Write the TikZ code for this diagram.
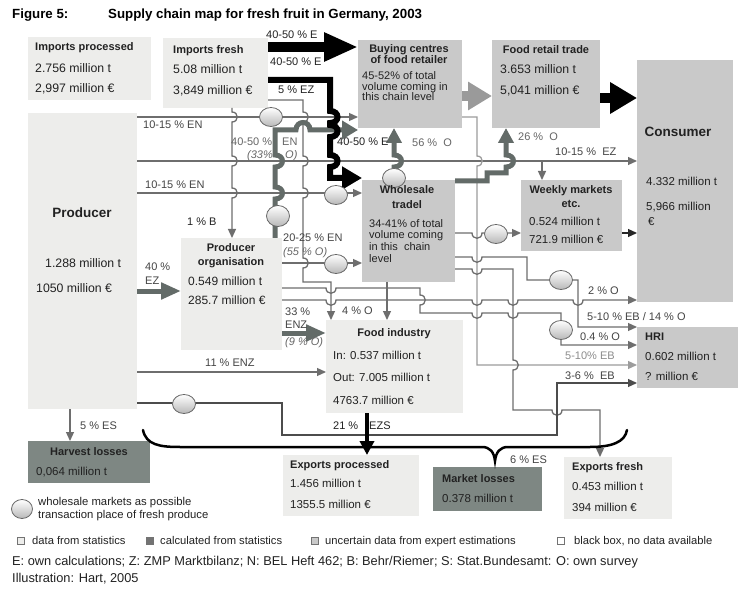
\documentclass[tikz,border=0pt]{standalone}
\usepackage{fontspec}
\setmainfont{Liberation Sans}
\usetikzlibrary{arrows.meta,shapes.geometric}
\definecolor{boxlight}{HTML}{EDEDEB}
\definecolor{boxmid}{HTML}{C9C9C9}
\definecolor{boxdark}{HTML}{7E8783}
\definecolor{linegray}{HTML}{6E6E6E}
\definecolor{thickgray}{HTML}{636B68}
\definecolor{lightarrow}{HTML}{9A9A9A}
\definecolor{txt}{HTML}{222222}
\definecolor{labgray}{HTML}{444444}
\definecolor{labital}{HTML}{666666}
\definecolor{paleline}{HTML}{9C9C9C}
% bumps (y axis points down)
\newcommand\bumpv[2]{-- (#1,#2-5) .. controls +(7,0) and +(7,0) .. (#1,#2+5)}
\newcommand\bumpvd[2]{-- (#1,#2-6) .. controls +(10,0) and +(10,0) .. (#1,#2+6)}
\newcommand\bumpvu[2]{-- (#1,#2+6) .. controls +(10,0) and +(10,0) .. (#1,#2-6)}
\newcommand\dip[2]{-- (#1-5,#2) .. controls +(0,7) and +(0,7) .. (#1+5,#2)}
\newcommand\hump[2]{-- (#1-7,#2) .. controls +(0,-10) and +(0,-10) .. (#1+7,#2)}
\begin{document}
\begin{tikzpicture}[x=1pt,y=-1pt,
  lbox/.style={fill=boxlight, inner sep=0, outer sep=0, anchor=north west},
  mbox/.style={fill=boxmid, inner sep=0, outer sep=0, anchor=north west},
  dbox/.style={fill=boxdark, inner sep=0, outer sep=0, anchor=north west},
  cline/.style={draw=linegray, line width=1.3pt},
  arr/.style={-{Triangle[length=9pt,width=8pt]}},
  thg/.style={draw=thickgray, line width=5pt},
  ell/.style={ellipse, draw=black!60, line width=0.8pt, minimum width=23pt, minimum height=19pt, inner sep=0pt, top color=white, bottom color=black!28},
  ttl/.style={font=\bfseries\fontsize{13.3}{15}\selectfont, inner sep=0, anchor=mid west},
  hd/.style={font=\bfseries\fontsize{11}{12}\selectfont, text=txt, inner sep=0, anchor=mid west},
  hdc/.style={hd, anchor=mid},
  big/.style={font=\bfseries\fontsize{13.5}{15}\selectfont, text=txt, inner sep=0, anchor=mid},
  val/.style={font=\fontsize{11.5}{12}\selectfont, text=txt, inner sep=0, anchor=mid west},
  valb/.style={val, font=\fontsize{12.3}{13}\selectfont},
  sm/.style={font=\fontsize{11}{12}\selectfont, text=txt, inner sep=0, anchor=mid west},
  lab/.style={font=\fontsize{11}{12}\selectfont, text=labgray, inner sep=0, anchor=mid west},
  labd/.style={lab, text=txt},
  labi/.style={font=\itshape\fontsize{11}{12}\selectfont, text=labital, inner sep=0, anchor=mid west},
  labg/.style={lab, text=labital},
  labp/.style={lab, text=black!45},
  leg/.style={font=\fontsize{11.3}{12}\selectfont, text=txt, inner sep=0, anchor=mid west},
  legs/.style={font=\fontsize{11.2}{12}\selectfont, text=txt, inner sep=0, anchor=mid west},
  foot/.style={font=\fontsize{12.8}{14}\selectfont, text=txt, inner sep=0, anchor=mid west},
  sq/.style={draw=black!55, line width=0.8pt, minimum size=7pt, inner sep=0}
]
\useasboundingbox (0,0) rectangle (756,607);
\fill[white] (0,0) rectangle (756,607);

% ---------- boxes ----------
\node[lbox, minimum width=123pt, minimum height=63pt] (ipr) at (28,37) {};
\node[lbox, minimum width=105pt, minimum height=70pt] (ifr) at (163,38) {};
\node[mbox, minimum width=104pt, minimum height=88pt] (bc) at (358,40) {};
\node[mbox, minimum width=108pt, minimum height=88pt] (frt) at (492,40) {};
\node[mbox, minimum width=96pt, minimum height=242pt] (con) at (637,60) {};
\node[lbox, minimum width=109pt, minimum height=296pt] (pro) at (28,113) {};
\node[mbox, minimum width=93pt, minimum height=102pt] (wh) at (362,180) {};
\node[mbox, minimum width=101pt, minimum height=71pt] (wk) at (521,180) {};
\node[lbox, minimum width=101pt, minimum height=112pt] (po) at (181,238) {};
\node[lbox, minimum width=137pt, minimum height=93pt] (fi) at (326,320) {};
\node[mbox, minimum width=101pt, minimum height=61pt] (hri) at (637,327) {};
\node[dbox, minimum width=122pt, minimum height=42pt] (hl) at (28,441) {};
\node[lbox, minimum width=136pt, minimum height=61pt] (ep) at (283,455) {};
\node[dbox, minimum width=109pt, minimum height=44pt] (ml) at (433,467) {};
\node[lbox, minimum width=108pt, minimum height=62pt] (ef) at (564,457) {};

% ---------- thin connectors ----------
\draw[cline, arr] (pro.east |- 0,117) -- (bc.west |- 0,117);
\draw[cline, arr] (pro.east |- 0,161) -- (con.west |- 0,161);
\draw[cline, arr] (542,161) -- (wk.north -| 542,0);
\draw[cline, arr] (pro.east |- 0,193) -- (wh.west |- 0,193);
\draw[cline, arr] (ifr.south -| 232,0) \bumpv{232}{117} \bumpv{232}{161} \bumpv{232}{193} -- (po.north -| 232,0);
\draw[cline, arr] (ifr.east |- 0,100) -- (303,100) \bumpv{303}{117} \bumpv{303}{161} \bumpv{303}{193} \bumpv{303}{263} -- (303,282) -- (331,282) -- (fi.north -| 331,0);
\draw[cline, arr] (po.east |- 0,263) -- (wh.west |- 0,263);
\draw[cline, arr, draw=paleline] (bc.east |- 0,117) -- (477,117) \bumpv{477}{161} -- (477,365) -- (hri.west |- 0,365);
\draw[cline, arr] (wh.east |- 0,233) \dip{477}{233} -- (wk.west |- 0,233);
\draw[cline, arr, draw=black!85] (wk.east |- 0,233) -- (con.west |- 0,233);
\draw[cline, arr] (wh.south -| 387,0) -- (fi.north -| 387,0);
\draw[cline, arr] (wh.east |- 0,257) \dip{477}{257} -- (527,257) -- (527,280) -- (578,280) -- (578,327) -- (hri.west |- 0,327);
\draw[cline, arr] (wh.east |- 0,269) \dip{477}{269} -- (513,269) \bumpv{513}{365} -- (513,410) \dip{557}{410} -- (600,410) -- (ef.north -| 600,0);
\draw[cline, arr] (po.east |- 0,288) \dip{331}{288} -- (420,288) \bumpv{420}{300} -- (420,313) \dip{477}{313} \dip{513}{313} -- (561,313) -- (561,345) -- (hri.west |- 0,345);
\draw[cline, arr] (po.east |- 0,300) \dip{331}{300} \dip{477}{300} \dip{513}{300} \dip{578}{300} -- (con.west |- 0,300);
\draw[cline, arr] (pro.east |- 0,372) -- (fi.west |- 0,372);
\draw[cline, arr, draw=black!70] (pro.east |- 0,403) -- (282,403) -- (282,435) -- (557,435) -- (557,383) -- (hri.west |- 0,383);
\draw[cline, arr] (pro.south -| 70,0) -- (hl.north -| 70,0);

% ---------- thick connectors ----------
\draw[thg, -{Triangle[length=16pt,width=18pt]}] (po.north -| 275,0) \bumpvu{275}{193} \bumpvu{275}{161} -- (275,130) \hump{303}{130} -- (bc.west |- 0,130);
\draw[line width=6pt, black, -{Triangle[length=20pt,width=22pt]}] (ifr.east |- 0,80) -- (330,80) \bumpvd{330}{117} \bumpvd{330}{131} \bumpvd{330}{161} -- (330,178) -- (wh.west |- 0,178);
\draw[line width=10pt, black, -{Triangle[length=34pt,width=27pt]}] (ifr.east |- 0,47) -- (bc.west |- 0,47);
\draw[thg, -{Triangle[length=15pt,width=15pt]}] (394,178) \bumpvu{394}{161} -- (bc.south -| 394,0);
\draw[thg, -{Triangle[length=15pt,width=15pt]}] (455,181) -- (487,181) -- (487,173) -- (506,173) \bumpvu{506}{161} -- (frt.south -| 506,0);
\draw[line width=10pt, lightarrow, -{Triangle[length=24pt,width=27pt]}] (bc.east |- 0,96) -- (frt.west |- 0,96);
\draw[line width=10pt, black, -{Triangle[length=27pt,width=30pt]}] (frt.east |- 0,98) -- (con.west |- 0,98);
\draw[thg, -{Triangle[length=20pt,width=16pt]}] (pro.east |- 0,291) -- (po.west |- 0,291);
\draw[thg, -{Triangle[length=20pt,width=16pt]}] (po.east |- 0,333) -- (fi.west |- 0,333);
\draw[line width=4pt, black, -{Triangle[length=14pt,width=14pt]}] (fi.south -| 367,0) -- (ep.north -| 367,0);

% ---------- brace ----------
\draw[line width=2.5pt, black, line cap=round] (143,430) .. controls (146,445) and (160,447) .. (180,447) -- (482,447) .. controls (490,447) and (494,452) .. (495,461) .. controls (496,452) and (500,447) .. (508,447) -- (590,447) .. controls (612,447) and (625,442) .. (627,430);

% ---------- wholesale market ellipses ----------
\node[ell] (e1) at (271,117) {};
\node[ell, minimum height=21pt] (e2) at (278,216) {};
\node[ell] (e3) at (336,195) {};
\node[ell] (e4) at (394,178) {};
\node[ell] (e5) at (336,264) {};
\node[ell] (e6) at (496,234) {};
\node[ell] (e7) at (561,280) {};
\node[ell] (e8) at (561,330) {};
\node[ell] (e9) at (184,404) {};

% ---------- title ----------
\node[ttl] (t0a) at (12,16) {Figure 5:};
\node[ttl] (t0b) at (108,16) {Supply chain map for fresh fruit in Germany, 2003};

% ---------- box texts ----------
\node[hd] (t1) at (35,48) {Imports processed};
\node[valb] (t2) at (35,70) {2.756 million t};
\node[valb] (t3) at (35,90) {2,997 million €};
\node[hd] (t4) at (173,51) {Imports fresh};
\node[valb] (t5) at (173,71) {5.08 million t};
\node[valb] (t6) at (173,92) {3,849 million €};
\node[hdc] (t7) at (409,50) {Buying centres};
\node[hdc] (t8) at (409,61) {of food retailer};
\node[sm] (t9) at (362,77) {45-52\% of total};
\node[sm] (t10) at (362,88) {volume coming in};
\node[sm] (t11) at (362,98) {this chain level};
\node[hdc] (t12) at (546,51) {Food retail trade};
\node[valb] (t13) at (500,71) {3.653 million t};
\node[valb] (t14) at (500,92) {5,041 million €};
\node[big] (t15) at (678,134) {Consumer};
\node[val] (t16) at (646,183) {4.332 million t};
\node[val] (t17) at (646,208) {5,966 million};
\node[val] (t18) at (648,223) {€};
\node[big] (t19) at (82,215) {Producer};
\node[valb] (t20) at (45,265) {1.288 million t};
\node[valb] (t21) at (36,290) {1050 million €};
\node[hdc] (t22) at (407,191) {Wholesale};
\node[hdc] (t23) at (407,206) {tradel};
\node[sm] (t24) at (369,225) {34-41\% of total};
\node[sm] (t25) at (369,236) {volume coming};
\node[sm] (t26) at (369,248) {in this\ \ chain};
\node[sm] (t27) at (369,260) {level};
\node[hdc] (t28) at (571,191) {Weekly markets};
\node[hdc] (t29) at (571,205) {etc.};
\node[val] (t30) at (529,223) {0.524 million t};
\node[val] (t31) at (529,241) {721.9 million €};
\node[hdc] (t32) at (231,249) {Producer};
\node[hdc] (t33) at (231,263) {organisation};
\node[val, font=\fontsize{12}{13}\selectfont] (t34) at (188,283) {0.549 million t};
\node[val, font=\fontsize{12}{13}\selectfont] (t35) at (188,302) {285.7 million €};
\node[hdc] (t36) at (394,334) {Food industry};
\node[val] (t37) at (333,357) {In: 0.537 million t};
\node[val] (t38) at (333,379) {Out: 7.005 million t};
\node[val] (t39) at (333,402) {4763.7 million €};
\node[hd] (t40) at (645,338) {HRI};
\node[val] (t41) at (645,358) {0.602 million t};
\node[val] (t42) at (645,378) {? million €};
\node[hdc] (t43) at (89,453) {Harvest losses};
\node[val] (t44) at (36,473) {0,064 million t};
\node[hd] (t45) at (290,466) {Exports processed};
\node[val] (t46) at (290,485) {1.456 million t};
\node[val] (t47) at (290,506) {1355.5 million €};
\node[hd] (t48) at (442,480) {Market losses};
\node[val] (t49) at (442,500) {0.378 million t};
\node[hd] (t50) at (572,468) {Exports fresh};
\node[val] (t51) at (572,488) {0.453 million t};
\node[val] (t52) at (572,509) {394 million €};

% ---------- connector labels ----------
\node[labd] (l1) at (266,36) {40-50 \% E};
\node[labd] (l2) at (270,63) {40-50 \% E};
\node[labd] (l3) at (278,91) {5 \% EZ};
\node[lab] (l4) at (143,126) {10-15 \% EN};
\node[labg] (l5) at (231,143) {40-50 \%};
\node[labg] (l6) at (282,143) {EN};
\node[labi] (l7) at (247,156) {(33\%};
\node[labi] (l8) at (285,156) {O)};
\node[labd] (l9) at (337,143) {40-50 \% E};
\node[labg] (l10) at (412,144) {56 \%\ \ O};
\node[labg] (l11) at (518,138) {26 \%\ \ O};
\node[lab] (l12) at (555,153) {10-15 \%\ \ EZ};
\node[lab] (l13) at (145,186) {10-15 \% EN};
\node[labd] (l14) at (187,223) {1 \% B};
\node[lab] (l15) at (283,239) {20-25 \% EN};
\node[labi] (l16) at (283,253) {(55 \% O)};
\node[lab] (l17) at (145,268) {40 \%};
\node[lab] (l18) at (145,282) {EZ};
\node[lab] (l19) at (285,313) {33 \%};
\node[lab] (l20) at (285,326) {ENZ};
\node[labi] (l21) at (285,343) {(9 \% O)};
\node[lab] (l22) at (342,312) {4 \% O};
\node[lab] (l23) at (588,292) {2 \% O};
\node[lab] (l24) at (587,318) {5-10 \% EB / 14 \% O};
\node[lab] (l25) at (580,338) {0.4 \% O};
\node[labp] (l26) at (565,357) {5-10\% EB};
\node[lab] (l27) at (565,377) {3-6 \%\ \ EB};
\node[lab] (l28) at (205,364) {11 \% ENZ};
\node[lab] (l29) at (80,427) {5 \% ES};
\node[labd] (l30) at (333,427) {21 \%};
\node[labd] (l31) at (369,427) {EZS};
\node[lab] (l32) at (510,461) {6 \% ES};

% ---------- legend ----------
\node[ell, minimum width=21pt] (e10) at (22,509) {};
\node[leg] (g1) at (38,503) {wholesale markets as possible};
\node[leg] (g2) at (38,516) {transaction place of fresh produce};
\node[sq, fill=boxlight] (s1) at (21,541) {};
\node[legs] (g3) at (32,542) {data from statistics};
\node[sq, fill=black!55] (s2) at (149.5,541) {};
\node[legs] (g4) at (160,542) {calculated from statistics};
\node[sq, fill=boxmid] (s3) at (314.5,541) {};
\node[legs] (g5) at (325,542) {uncertain data from expert estimations};
\node[sq, fill=white] (s4) at (561,541) {};
\node[legs] (g6) at (574,542) {black box, no data available};
\node[foot] (f1) at (12,563) {E: own calculations; Z: ZMP Marktbilanz; N: BEL Heft 462; B: Behr/Riemer; S: Stat.Bundesamt: O: own survey};
\node[foot] (f2) at (12,580) {Illustration: Hart, 2005};
\end{tikzpicture}
\end{document}
